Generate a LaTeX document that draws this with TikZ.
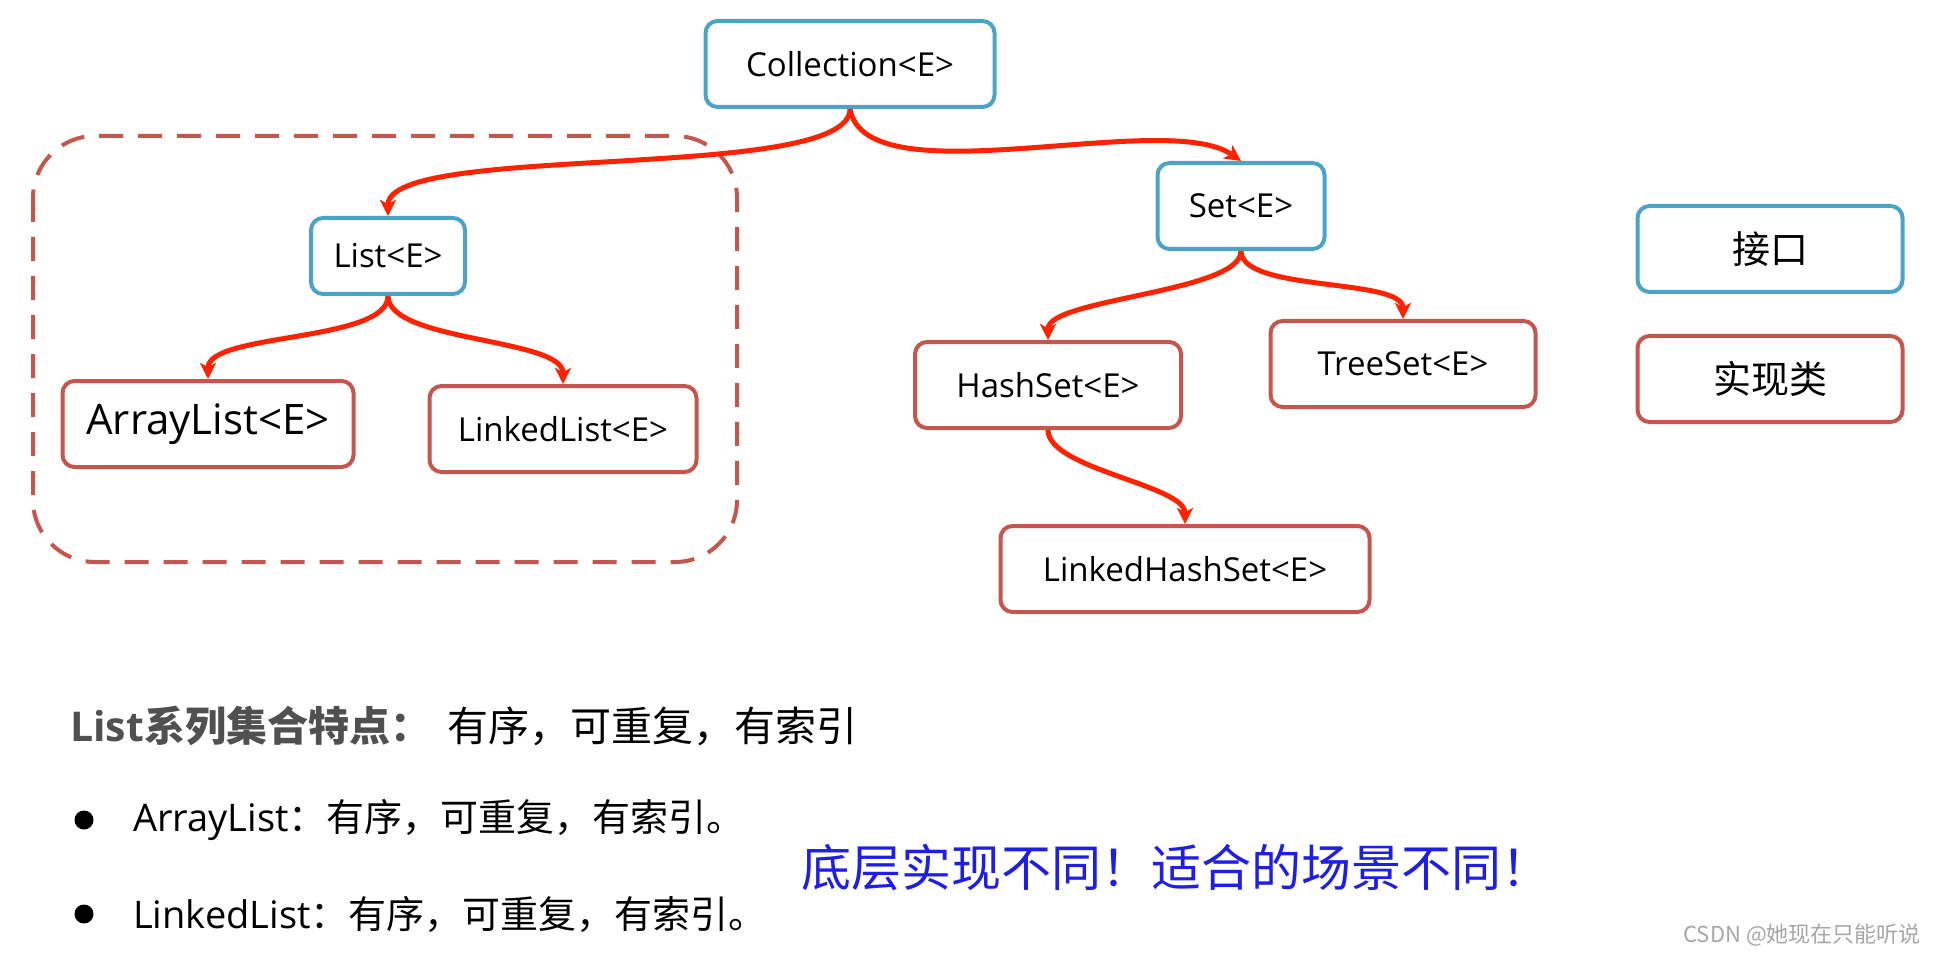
\documentclass[tikz,border=0pt]{standalone}
\usepackage{fontspec}
\setmainfont{Open Sans}
\newfontfamily\cjk{Noto Sans CJK SC}
\usetikzlibrary{arrows.meta}
\definecolor{ifblue}{RGB}{75,163,199}
\definecolor{implred}{RGB}{196,86,78}
\definecolor{arrred}{RGB}{255,34,0}
\definecolor{headgray}{RGB}{80,80,80}
\definecolor{handblue}{RGB}{30,30,230}
\begin{document}
\begin{tikzpicture}[x=1pt, y=1pt,
      iface/.style={rectangle, draw=ifblue, line width=4pt, rounded corners=12pt, fill=white, minimum height=86pt, align=center, font=\fontsize{33}{40}\selectfont},
      impl/.style={iface, draw=implred},
      arrow/.style={-{Stealth[length=16pt, width=16pt, inset=4pt]}, line width=5pt, draw=arrred},
      group/.style={draw=implred, line width=4pt, dash pattern=on 24pt off 15pt, rounded corners=62pt},
      line/.style={anchor=west, inner sep=0pt, font=\cjk\fontsize{38}{42}\selectfont},
      dot/.style={circle, fill=black, inner sep=0pt, minimum size=19pt}
  ]
  \useasboundingbox (0,0) rectangle (1937,-957);

  % List group
  \draw[group] (33,-136) rectangle (737,-562);

  % Nodes
  \node[iface, minimum width=289pt] (coll) at (850,-64) {Collection<E>};
  \node[iface, minimum width=154pt, minimum height=76pt] (list) at (388,-256) {List<E>};
  \node[impl, minimum width=291pt, font=\fontsize{42}{48}\selectfont] (arr) at (208,-424) {ArrayList<E>};
  \node[impl, minimum width=267pt] (lnk) at (563,-429) {LinkedList<E>};
  \node[iface, minimum width=167pt] (set) at (1241,-206) {Set<E>};
  \node[impl, minimum width=266pt] (hash) at (1048,-385) {HashSet<E>};
  \node[impl, minimum width=265pt] (tree) at (1403,-364) {TreeSet<E>};
  \node[impl, minimum width=369pt] (lhs) at (1185,-569) {LinkedHashSet<E>};

  % Legend
  \node[iface, minimum width=265pt, font=\cjk\fontsize{38}{44}\selectfont] (ikey) at (1770,-249) {接口};
  \node[impl, minimum width=265pt, font=\cjk\fontsize{38}{44}\selectfont] (ckey) at (1770,-379) {实现类};

  % Arrows
  \draw[arrow] (coll.south) to[out=-90, in=90, looseness=0.4] (list.north);
  \draw[arrow] (coll.south) to[out=-80, in=145, looseness=0.6] (set.north);
  \draw[arrow] (list.south) to[out=-90, in=90, looseness=0.6] (arr.north);
  \draw[arrow] (list.south) to[out=-90, in=90, looseness=0.6] (lnk.north);
  \draw[arrow] (set.south) to[out=-90, in=90, looseness=0.5] (hash.north);
  \draw[arrow] (set.south) to[out=-90, in=90, looseness=0.6] (tree.north);
  \draw[arrow] (hash.south) to[out=-90, in=90, looseness=0.6] (lhs.north);

  % Notes
  \node[line, font=\cjk\fontsize{41}{46}\selectfont] (head) at (70,-726) {{\color{headgray}\bfseries{\rmfamily List}系列集合特点：}\hspace{16pt}有序，可重复，有索引};
  \node[dot] (b1) at (84,-820) {};
  \node[dot] (b2) at (84,-914) {};
  \node[line] (l1) at (133,-820) {{\rmfamily ArrayList}：有序，可重复，有索引。};
  \node[line] (l2) at (133,-914) {{\rmfamily LinkedList}：有序，可重复，有索引。};
  \node[font=\cjk\fontsize{50}{54}\selectfont, text=handblue] (hint) at (1176,-868) {底层实现不同！适合的场景不同！};
  \node[anchor=east, inner sep=0pt, font=\cjk\fontsize{22}{26}\selectfont, text=gray!70] (mark) at (1921,-935) {CSDN @她现在只能听说};

  \end{tikzpicture}
\end{document}
